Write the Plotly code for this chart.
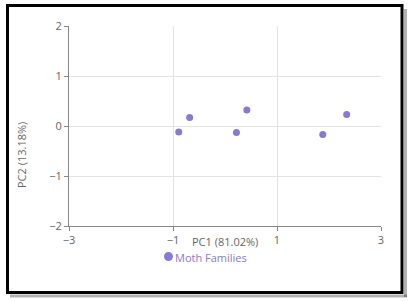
import plotly.graph_objects as go

pc1 = [-0.89, -0.68, 0.22, 0.42, 1.88, 2.34]
pc2 = [-0.12, 0.17, -0.13, 0.32, -0.17, 0.23]
series_name = "Moth Families"
x_title = "PC1 (81.02%)"
y_title = "PC2 (13.18%)"
x_ticks = [-3, -1, 1, 3]
y_ticks = [-2, -1, 0, 1, 2]

color = "#8779d9"
font = "Open Sans, Noto Sans, sans-serif"

fig = go.Figure()
fig.add_trace(go.Scatter(x=pc1, y=pc2, mode="markers", name=series_name,
                         marker=dict(color=color, size=7),
                         showlegend=False))

L, R, T, B = 69, 32, 26, 75
W, H = 413, 301
pw, ph = W - L - R, H - T - B

def px(x):
    return (x - L) / pw

def py(y):
    return (H - B - y) / ph

axis_common = dict(showline=True, linecolor="#888", linewidth=1, ticks="outside",
                   ticklen=4, tickcolor="#888", showgrid=True, gridcolor="#e3e3e3",
                   zeroline=False, tickfont=dict(size=11, color="#666", family=font))

fig.update_layout(
    width=W, height=H,
    margin=dict(l=L, r=R, t=T, b=B),
    paper_bgcolor="white", plot_bgcolor="white",
    font=dict(family=font, color="#666"),
    xaxis=dict(range=[-3, 3], tickvals=x_ticks, **axis_common),
    yaxis=dict(range=[-2, 2], tickvals=y_ticks, **axis_common),
    showlegend=False,
    shapes=[
        dict(type="line", xref="paper", yref="paper", x0=px(405.5), x1=px(405.5), y0=py(9), y1=py(297),
             line=dict(color="rgba(0,0,0,0.3)", width=3)),
        dict(type="line", xref="paper", yref="paper", x0=px(10), x1=px(407), y0=py(296), y1=py(296),
             line=dict(color="rgba(0,0,0,0.3)", width=3)),
        dict(type="rect", xref="paper", yref="paper", x0=px(7.5), x1=px(402), y0=py(292.5), y1=py(5.5),
             line=dict(color="black", width=3)),
        # legend symbol
        dict(type="circle", xref="paper", yref="paper", x0=px(164), x1=px(173), y0=py(261), y1=py(252),
             fillcolor=color, line=dict(width=0)),
    ],
    annotations=[
        dict(text=x_title, xref="paper", yref="paper", x=px(225), y=py(241.5), showarrow=False,
             borderpad=0, xanchor="center", yanchor="middle", font=dict(size=11, color="#666", family=font)),
        dict(text=y_title, xref="paper", yref="paper", x=px(21), y=py(155), showarrow=False,
             textangle=-90, xanchor="center", yanchor="middle", font=dict(size=11, color="#666", family=font)),
        dict(text=series_name, xref="paper", yref="paper", x=px(174), y=py(257), showarrow=False,
             borderpad=0, xanchor="left", yanchor="middle", font=dict(size=11, color=color, family=font)),
    ],
)

fig.write_html("out.html")
